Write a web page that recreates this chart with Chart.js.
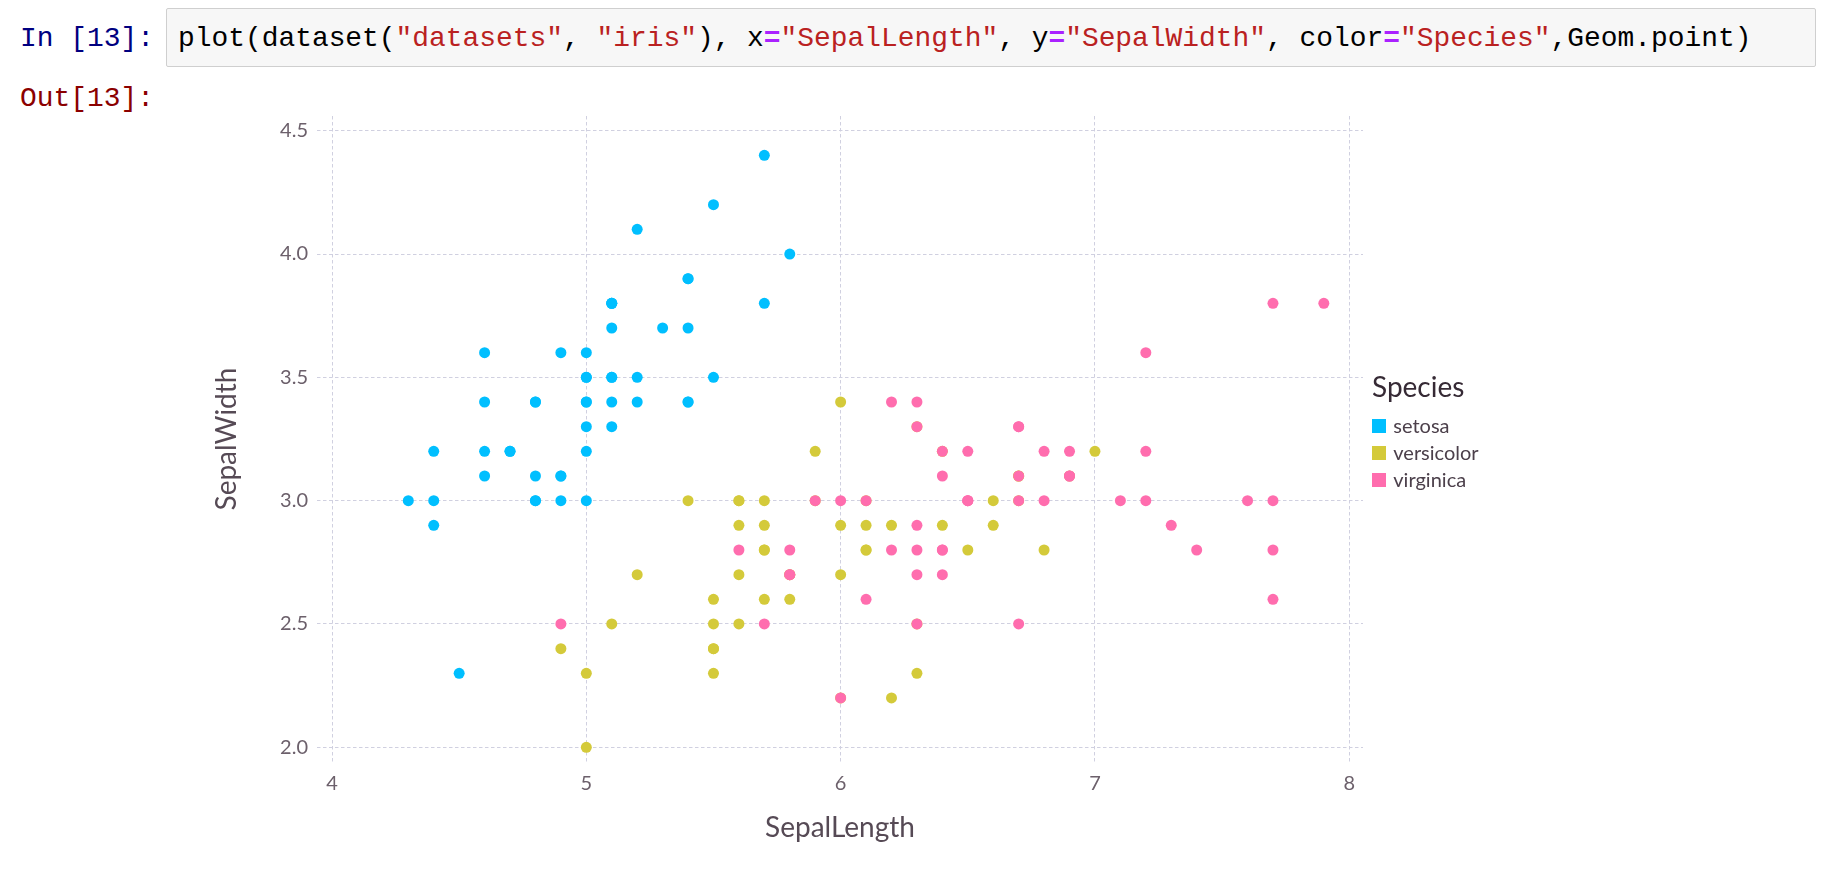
<!DOCTYPE html>
<html>
<head>
<meta charset="utf-8">
<script src="https://cdn.jsdelivr.net/npm/chart.js@4"></script>
<style>
  html, body { margin: 0; padding: 0; background: #fff; }
  body { width: 1838px; height: 892px; position: relative; overflow: hidden; }
  .mono { font-family: "Liberation Mono", monospace; font-size: 27.9px; line-height: 33px; position: absolute; white-space: pre; }
  #inPrompt { left: 20px; top: 22px; color: #000080; }
  #outPrompt { left: 20px; top: 82px; color: #8b0000; }
  #cell { position: absolute; left: 166px; top: 8px; width: 1648px; height: 57px; background: #f7f7f7; border: 1px solid #cfcfcf; border-radius: 2px; }
  #code { left: 178px; top: 22px; color: #000; }
  .s { color: #ba2121; }
  .o { color: #aa22ff; font-weight: bold; }
  #chart { position: absolute; left: 0; top: 0; }
  .key { position: absolute; font-family: Lato, sans-serif; white-space: nowrap; line-height: 1; }
  .sw { position: absolute; width: 13.3px; height: 13.3px; }
</style>
</head>
<body>
<div id="cell"></div>
<div class="mono" id="inPrompt">In [13]:</div>
<div class="mono" id="code">plot(dataset(<span class="s">"datasets"</span>, <span class="s">"iris"</span>), x<span class="o">=</span><span class="s">"SepalLength"</span>, y<span class="o">=</span><span class="s">"SepalWidth"</span>, color<span class="o">=</span><span class="s">"Species"</span>,Geom.point)</div>
<div class="mono" id="outPrompt">Out[13]:</div>
<canvas id="chart" width="1838" height="892"></canvas>
<div id="key"></div>
<script>
// iris sepal measurements, per species
const species = ['setosa', 'versicolor', 'virginica'];
const speciesColors = ['#00BFFF', '#D4CA3A', '#FF6DAE'];

const setosaLength = [5.1, 4.9, 4.7, 4.6, 5.0, 5.4, 4.6, 5.0, 4.4, 4.9, 5.4, 4.8, 4.8, 4.3, 5.8, 5.7, 5.4, 5.1, 5.7, 5.1,
  5.4, 5.1, 4.6, 5.1, 4.8, 5.0, 5.0, 5.2, 5.2, 4.7, 4.8, 5.4, 5.2, 5.5, 4.9, 5.0, 5.5, 4.9, 4.4, 5.1,
  5.0, 4.5, 4.4, 5.0, 5.1, 4.8, 5.1, 4.6, 5.3, 5.0];
const setosaWidth = [3.5, 3.0, 3.2, 3.1, 3.6, 3.9, 3.4, 3.4, 2.9, 3.1, 3.7, 3.4, 3.0, 3.0, 4.0, 4.4, 3.9, 3.5, 3.8, 3.8,
  3.4, 3.7, 3.6, 3.3, 3.4, 3.0, 3.4, 3.5, 3.4, 3.2, 3.1, 3.4, 4.1, 4.2, 3.1, 3.2, 3.5, 3.6, 3.0, 3.4,
  3.5, 2.3, 3.2, 3.5, 3.8, 3.0, 3.8, 3.2, 3.7, 3.3];

const versicolorLength = [7.0, 6.4, 6.9, 5.5, 6.5, 5.7, 6.3, 4.9, 6.6, 5.2, 5.0, 5.9, 6.0, 6.1, 5.6, 6.7, 5.6, 5.8, 6.2, 5.6,
  5.9, 6.1, 6.3, 6.1, 6.4, 6.6, 6.8, 6.7, 6.0, 5.7, 5.5, 5.5, 5.8, 6.0, 5.4, 6.0, 6.7, 6.3, 5.6, 5.5,
  5.5, 6.1, 5.8, 5.0, 5.6, 5.7, 5.7, 6.2, 5.1, 5.7];
const versicolorWidth = [3.2, 3.2, 3.1, 2.3, 2.8, 2.8, 3.3, 2.4, 2.9, 2.7, 2.0, 3.0, 2.2, 2.9, 2.9, 3.1, 3.0, 2.7, 2.2, 2.5,
  3.2, 2.8, 2.5, 2.8, 2.9, 3.0, 2.8, 3.0, 2.9, 2.6, 2.4, 2.4, 2.7, 2.7, 3.0, 3.4, 3.1, 2.3, 3.0, 2.5,
  2.6, 3.0, 2.6, 2.3, 2.7, 3.0, 2.9, 2.9, 2.5, 2.8];

const virginicaLength = [6.3, 5.8, 7.1, 6.3, 6.5, 7.6, 4.9, 7.3, 6.7, 7.2, 6.5, 6.4, 6.8, 5.7, 5.8, 6.4, 6.5, 7.7, 7.7, 6.0,
  6.9, 5.6, 7.7, 6.3, 6.7, 7.2, 6.2, 6.1, 6.4, 7.2, 7.4, 7.9, 6.4, 6.3, 6.1, 7.7, 6.3, 6.4, 6.0, 6.9,
  6.7, 6.9, 5.8, 6.8, 6.7, 6.7, 6.3, 6.5, 6.2, 5.9];
const virginicaWidth = [3.3, 2.7, 3.0, 2.9, 3.0, 3.0, 2.5, 2.9, 2.5, 3.6, 3.2, 2.7, 3.0, 2.5, 2.8, 3.2, 3.0, 3.8, 2.6, 2.2,
  3.2, 2.8, 2.8, 2.7, 3.3, 3.2, 2.8, 3.0, 2.8, 3.0, 2.8, 3.8, 2.8, 2.8, 2.6, 3.0, 3.4, 3.1, 3.0, 3.1,
  3.1, 3.1, 2.7, 3.2, 3.3, 3.0, 2.5, 3.0, 3.4, 3.0];

const xTicks = [4, 5, 6, 7, 8];
const yTicks = [2.0, 2.5, 3.0, 3.5, 4.0, 4.5];

const lengths = [setosaLength, versicolorLength, virginicaLength];
const widths = [setosaWidth, versicolorWidth, virginicaWidth];

const gridColor = '#D0D0E0';
const gridDash = [3.5, 2.5];

const datasets = species.map((name, i) => ({
  label: name,
  data: lengths[i].map((x, j) => ({x: x, y: widths[i][j]})),
  backgroundColor: speciesColors[i],
  borderWidth: 0,
  pointRadius: 5.5,
  // virginica ends up on top, like the original
  order: species.length - i
}));

new Chart(document.getElementById('chart').getContext('2d'), {
  type: 'scatter',
  data: {datasets: datasets},
  options: {
    responsive: false,
    animation: false,
    events: [],
    layout: {padding: {top: 116, right: 475, bottom: 0, left: 0}},
    plugins: {legend: {display: false}, tooltip: {enabled: false}},
    scales: {
      x: {
        type: 'linear',
        min: 3.941,
        max: 8.054,
        afterFit: s => { s.height = 130; },
        afterBuildTicks: s => { s.ticks = xTicks.map(v => ({value: v})); },
        // v4 takes the grid line dash from border.dash
        border: {display: false, dash: gridDash},
        grid: {color: gridColor, lineWidth: 1, drawTicks: false},
        ticks: {
          padding: 10,
          color: '#6C606B',
          font: {family: 'Lato', size: 20},
          callback: v => String(v)
        },
        title: {
          display: true,
          text: 'SepalLength',
          color: '#564A55',
          font: {family: 'Lato', size: 28},
          padding: {top: 0, bottom: 47}
        }
      },
      y: {
        type: 'linear',
        min: 1.9404,
        max: 4.5596,
        afterFit: s => { s.width = 317; },
        afterBuildTicks: s => { s.ticks = yTicks.map(v => ({value: v})); },
        border: {display: false, dash: gridDash},
        grid: {color: gridColor, lineWidth: 1, drawTicks: false},
        ticks: {
          padding: 9,
          color: '#6C606B',
          font: {family: 'Lato', size: 20},
          callback: v => Number(v).toFixed(1)
        },
        title: {
          display: true,
          text: 'SepalWidth',
          color: '#564A55',
          font: {family: 'Lato', size: 28},
          padding: {top: 210, bottom: 0}
        }
      }
    }
  }
});

// key on the right
const key = document.getElementById('key');
const title = document.createElement('div');
title.className = 'key';
title.textContent = 'Species';
Object.assign(title.style, {left: '1372px', top: '372px', fontSize: '28px', color: '#362A35'});
key.appendChild(title);
species.forEach((name, i) => {
  const sw = document.createElement('div');
  sw.className = 'sw';
  Object.assign(sw.style, {left: '1372.3px', top: (419.3 + i * 27) + 'px', background: speciesColors[i]});
  key.appendChild(sw);
  const lab = document.createElement('div');
  lab.className = 'key';
  lab.textContent = name;
  Object.assign(lab.style, {left: '1393.3px', top: (415 + i * 27) + 'px', fontSize: '20px', color: '#4C404B'});
  key.appendChild(lab);
});
</script>
</body>
</html>
